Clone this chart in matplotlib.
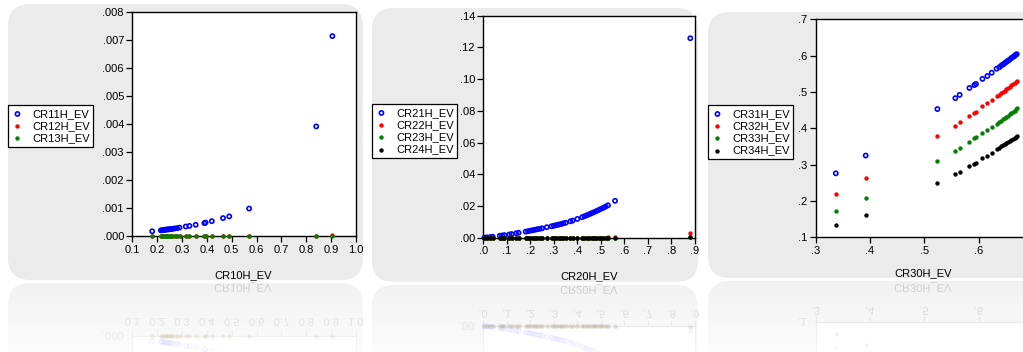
import numpy as np
import matplotlib.pyplot as plt
from matplotlib.patches import FancyBboxPatch, PathPatch
from matplotlib.textpath import TextPath
from matplotlib.font_manager import FontProperties
from matplotlib.transforms import Affine2D

plt.rcParams['font.family'] = ['Liberation Sans', 'DejaVu Sans']
plt.rcParams['font.size'] = 8

# ---------------- data ----------------
# panel 1: CR10H_EV vs CR11H..CR13H
cr10 = [0.18, 0.215, 0.22, 0.225, 0.23, 0.235, 0.24, 0.245, 0.25, 0.255, 0.26, 0.27, 0.28,
        0.29, 0.315, 0.33, 0.355, 0.39, 0.395, 0.42, 0.465, 0.49, 0.57, 0.84, 0.905]
cr11 = [0.00018, 0.00021, 0.00022, 0.00022, 0.00023, 0.00024, 0.00024, 0.00025, 0.00025,
        0.00026, 0.00026, 0.00028, 0.00029, 0.00031, 0.00035, 0.00037, 0.00041, 0.00047,
        0.00049, 0.00054, 0.00065, 0.00071, 0.00099, 0.00392, 0.00714]
cr12 = [0.000004, 0.000004, 0.000004, 0.000004, 0.000004, 0.000005, 0.000005, 0.000005,
        0.000005, 0.000005, 0.000005, 0.000005, 0.000006, 0.000006, 0.000006, 0.000006,
        0.000007, 0.000007, 0.000008, 0.000008, 0.000009, 0.000010, 0.000012, 0.000020, 0.000030]
cr13 = [0.000002, 0.000002, 0.000002, 0.000002, 0.000002, 0.000002, 0.000002, 0.000002,
        0.000003, 0.000003, 0.000003, 0.000003, 0.000003, 0.000003, 0.000003, 0.000003,
        0.000003, 0.000004, 0.000004, 0.000004, 0.000004, 0.000005, 0.000006, 0.000010, 0.000014]

# panel 2: CR20H_EV vs CR21H..CR24H
cr20 = [0.005, 0.015, 0.03, 0.04, 0.07, 0.08, 0.09, 0.11, 0.12, 0.14, 0.15, 0.18, 0.19, 0.20,
        0.21, 0.22, 0.23, 0.24, 0.25, 0.27, 0.29, 0.30, 0.31, 0.32, 0.33, 0.34, 0.35, 0.37,
        0.38, 0.40, 0.42, 0.43, 0.44, 0.45, 0.46, 0.47, 0.48, 0.49, 0.50, 0.51, 0.52, 0.53,
        0.56, 0.88]
cr21 = [0.0002, 0.0004, 0.0006, 0.0008, 0.0014, 0.0016, 0.0018, 0.0022, 0.0025, 0.0030,
        0.0033, 0.0040, 0.0043, 0.0046, 0.0049, 0.0052, 0.0055, 0.0058, 0.0061, 0.0068,
        0.0074, 0.0077, 0.0081, 0.0084, 0.0088, 0.0092, 0.0096, 0.0105, 0.0110, 0.0120,
        0.0131, 0.0137, 0.0143, 0.0149, 0.0156, 0.0162, 0.0169, 0.0176, 0.0183, 0.0190,
        0.0198, 0.0206, 0.0234, 0.1258]
cr22 = [0.0000, 0.0000, 0.0000, 0.0000, 0.0001, 0.0001, 0.0001, 0.0001, 0.0001, 0.0001,
        0.0001, 0.0001, 0.0001, 0.0001, 0.0001, 0.0001, 0.0001, 0.0001, 0.0001, 0.0001,
        0.0001, 0.0001, 0.0001, 0.0001, 0.0002, 0.0002, 0.0002, 0.0002, 0.0002, 0.0002,
        0.0002, 0.0002, 0.0002, 0.0003, 0.0003, 0.0003, 0.0003, 0.0003, 0.0003, 0.0003,
        0.0003, 0.0004, 0.0005, 0.0030]
cr23 = [0.0000, 0.0000, 0.0000, 0.0000, 0.0000, 0.0000, 0.0000, 0.0000, 0.0000, 0.0001,
        0.0001, 0.0001, 0.0001, 0.0001, 0.0001, 0.0001, 0.0001, 0.0001, 0.0001, 0.0001,
        0.0001, 0.0001, 0.0001, 0.0001, 0.0001, 0.0001, 0.0001, 0.0001, 0.0001, 0.0001,
        0.0001, 0.0001, 0.0001, 0.0001, 0.0001, 0.0001, 0.0001, 0.0001, 0.0002, 0.0002,
        0.0002, 0.0002, 0.0002, 0.0008]
cr24 = [0.0000, 0.0000, 0.0000, 0.0000, 0.0000, 0.0000, 0.0000, 0.0000, 0.0000, 0.0000,
        0.0000, 0.0000, 0.0000, 0.0000, 0.0000, 0.0000, 0.0000, 0.0000, 0.0000, 0.0000,
        0.0000, 0.0000, 0.0000, 0.0000, 0.0000, 0.0000, 0.0000, 0.0000, 0.0001, 0.0001,
        0.0001, 0.0001, 0.0001, 0.0001, 0.0001, 0.0001, 0.0001, 0.0001, 0.0001, 0.0001,
        0.0001, 0.0001, 0.0001, 0.0004]

# panel 3: CR30H_EV vs CR31H..CR34H
cr30 = [0.337, 0.392, 0.524, 0.557, 0.565, 0.583, 0.592, 0.595, 0.607, 0.616, 0.624, 0.633,
        0.638, 0.642, 0.645, 0.648, 0.651, 0.654, 0.657, 0.660, 0.663, 0.666, 0.668, 0.670]
cr31 = [0.276, 0.325, 0.453, 0.483, 0.492, 0.511, 0.519, 0.522, 0.536, 0.544, 0.553, 0.564,
        0.568, 0.573, 0.576, 0.579, 0.583, 0.586, 0.589, 0.593, 0.596, 0.599, 0.602, 0.604]
cr32 = [0.220, 0.263, 0.378, 0.407, 0.417, 0.435, 0.443, 0.446, 0.461, 0.469, 0.478, 0.488,
        0.492, 0.497, 0.500, 0.504, 0.507, 0.511, 0.514, 0.518, 0.521, 0.524, 0.527, 0.530]
cr33 = [0.172, 0.208, 0.309, 0.338, 0.347, 0.363, 0.372, 0.375, 0.387, 0.396, 0.404, 0.413,
        0.417, 0.421, 0.425, 0.428, 0.431, 0.435, 0.438, 0.441, 0.445, 0.448, 0.452, 0.455]
cr34 = [0.133, 0.162, 0.249, 0.274, 0.280, 0.296, 0.302, 0.305, 0.317, 0.325, 0.332, 0.342,
        0.347, 0.350, 0.353, 0.356, 0.359, 0.362, 0.365, 0.368, 0.371, 0.374, 0.377, 0.379]

x1_ticks = [0.1, 0.2, 0.3, 0.4, 0.5, 0.6, 0.7, 0.8, 0.9, 1.0]
x1_labels = ['0.1', '0.2', '0.3', '0.4', '0.5', '0.6', '0.7', '0.8', '0.9', '1.0']
y1_ticks = [0.0, 0.001, 0.002, 0.003, 0.004, 0.005, 0.006, 0.007, 0.008]
y1_labels = ['.000', '.001', '.002', '.003', '.004', '.005', '.006', '.007', '.008']
x2_ticks = [0.0, 0.1, 0.2, 0.3, 0.4, 0.5, 0.6, 0.7, 0.8, 0.9]
x2_labels = ['.0', '.1', '.2', '.3', '.4', '.5', '.6', '.7', '.8', '.9']
y2_ticks = [0.0, 0.02, 0.04, 0.06, 0.08, 0.10, 0.12, 0.14]
y2_labels = ['.00', '.02', '.04', '.06', '.08', '.10', '.12', '.14']
x3_ticks = [0.3, 0.4, 0.5, 0.6]
x3_labels = ['.3', '.4', '.5', '.6']
y3_ticks = [0.1, 0.2, 0.3, 0.4, 0.5, 0.6, 0.7]
y3_labels = ['.1', '.2', '.3', '.4', '.5', '.6', '.7']

# ---------------- figure ----------------
W, H = 1023, 352
fig = plt.figure(figsize=(W / 100, H / 100), dpi=100)


def px_rect(l, t, r, b):
    return [l / W, 1 - b / H, (r - l) / W, (b - t) / H]


ax_bg = fig.add_axes([0, 0, 1, 1], zorder=0)
ax_bg.set_xlim(0, W)
ax_bg.set_ylim(H, 0)
ax_bg.axis('off')

mfont = FontProperties(family='Liberation Sans')


def mirror_text(x, y, s, color='#b4b4b4', size=11.1):
    # vertically flipped text, drawn in pixel coords (y from top)
    tp = TextPath((0, 0), s, size=size, prop=mfont)
    bb = tp.get_extents()
    tr = (Affine2D().translate(-(bb.x0 + bb.x1) / 2, -(bb.y0 + bb.y1) / 2)
          .scale(1, -1).translate(x, H - y))
    ax_bg.add_patch(PathPatch(tp, transform=tr, facecolor=color, edgecolor='none', zorder=3))


panels = [
    dict(box=(8, 4, 363, 280), ax=(132.3, 12, 356, 236.3), xlim=(0.1, 1.0), ylim=(0, 0.008),
         x=cr10, ys=[cr11, cr12, cr13], names=['CR11H_EV', 'CR12H_EV', 'CR13H_EV'],
         colors=['#0000ff', '#ff0000', '#008000'], xt=(x1_ticks, x1_labels), yt=(y1_ticks, y1_labels),
         xlabel='CR10H_EV', xlab_pos=(243, 275), leg=(8, 105),
         ref_axis=336, ref_lab=287, ref_tick=322),
    dict(box=(372, 8, 698, 282), ax=(483.3, 15.7, 695, 238), xlim=(0.0, 0.9), ylim=(0, 0.14),
         x=cr20, ys=[cr21, cr22, cr23, cr24], names=['CR21H_EV', 'CR22H_EV', 'CR23H_EV', 'CR24H_EV'],
         colors=['#0000ff', '#ff0000', '#008000', '#000000'], xt=(x2_ticks, x2_labels), yt=(y2_ticks, y2_labels),
         xlabel='CR20H_EV', xlab_pos=(589, 276), leg=(372, 104),
         ref_axis=326, ref_lab=289, ref_tick=314),
    dict(box=(708, 12, 1060, 278), ax=(815.7, 19.3, 1033, 237.3), xlim=(0.3, 0.7), ylim=(0.1, 0.7),
         x=cr30, ys=[cr31, cr32, cr33, cr34], names=['CR31H_EV', 'CR32H_EV', 'CR33H_EV', 'CR34H_EV'],
         colors=['#0000ff', '#ff0000', '#008000', '#000000'], xt=(x3_ticks, x3_labels), yt=(y3_ticks, y3_labels),
         xlabel='CR30H_EV', xlab_pos=(923, 273), leg=(708, 105),
         ref_axis=322, ref_lab=287, ref_tick=311),
]


def scatter_series(ax, p, alpha=1.0):
    handles = []
    for i, (y, c, n) in enumerate(zip(p['ys'], p['colors'], p['names'])):
        if i == 0:
            h = ax.scatter(p['x'], y, s=9, facecolors='none', edgecolors=c, linewidths=1.2,
                           label=n, alpha=alpha, zorder=3, clip_on=False)
        else:
            h = ax.scatter(p['x'], y, s=10, color=c, linewidths=0, label=n, alpha=alpha,
                           zorder=3 + i, clip_on=False)
        handles.append(h)
    return handles


for p in panels:
    l, t, r, b = p['box']
    ax_bg.add_patch(FancyBboxPatch((l, t), r - l, b - t, boxstyle='round,pad=0,rounding_size=22',
                                   facecolor='#ebebeb', edgecolor='none', zorder=1))
    # reflected box
    ax_bg.add_patch(FancyBboxPatch((l, b + 3), r - l, 120, boxstyle='round,pad=0,rounding_size=22',
                                   facecolor='#ececec', edgecolor='none', zorder=1))

    al, at, ar, ab = p['ax']
    ax = fig.add_axes(px_rect(al, at, ar, ab), zorder=2)
    hs = scatter_series(ax, p)
    ax.set_xlim(*p['xlim'])
    ax.set_ylim(*p['ylim'])
    ax.set_xticks(p['xt'][0])
    ax.set_xticklabels(p['xt'][1])
    ax.set_yticks(p['yt'][0])
    ax.set_yticklabels(p['yt'][1])
    ax.tick_params(direction='out', length=4, width=0.9, pad=2, labelsize=8, colors='#000000')
    for sp in ax.spines.values():
        sp.set_linewidth(1.0)
    ax_bg.text(p['xlab_pos'][0], p['xlab_pos'][1], p['xlabel'], ha='center', va='center',
               fontsize=8, zorder=4)

    leg = ax.legend(handles=hs, loc='upper left', bbox_to_anchor=(p['leg'][0] / W, 1 - p['leg'][1] / H),
                    bbox_transform=fig.transFigure, borderaxespad=0, fontsize=8, frameon=True,
                    fancybox=False, framealpha=1, edgecolor='#000000', scatterpoints=1,
                    labelspacing=0.2, handlelength=1.0, handletextpad=0.8, borderpad=0.35)
    leg.get_frame().set_linewidth(0.9)

    # reflection: mirrored plot below
    ra = p['ref_axis']
    rax = fig.add_axes(px_rect(al, ra, ar, ra + (ab - at)), zorder=1)
    scatter_series(rax, p, alpha=0.18)
    rax.set_xlim(*p['xlim'])
    rax.set_ylim(p['ylim'][1], p['ylim'][0])
    rax.set_xticks(p['xt'][0])
    rax.set_yticks([])
    rax.xaxis.tick_top()
    rax.tick_params(direction='out', length=4, width=0.8, labeltop=False, colors='#c4c4c4')
    for sp in rax.spines.values():
        sp.set_color('#c8c8c8')
        sp.set_linewidth(0.9)

    mirror_text(p['xlab_pos'][0], p['ref_lab'], p['xlabel'])
    for v, s in zip(*p['xt']):
        xp = rax.transData.transform((v, p['ylim'][0]))[0]
        mirror_text(xp, p['ref_tick'], s)
    mirror_text(al - 8 - 2.8 * len(p['yt'][1][0]), ra, p['yt'][1][0])

# fading overlay for the reflection
ax_fade = fig.add_axes(px_rect(0, 281, W, H), zorder=6)
fade = np.ones((70, 1, 4))
fade[:, 0, 3] = np.linspace(0.3, 0.85, 70)
ax_fade.imshow(fade, aspect='auto', extent=(0, 1, 0, 1))
ax_fade.axis('off')

fig.savefig('out.png', dpi=100)
